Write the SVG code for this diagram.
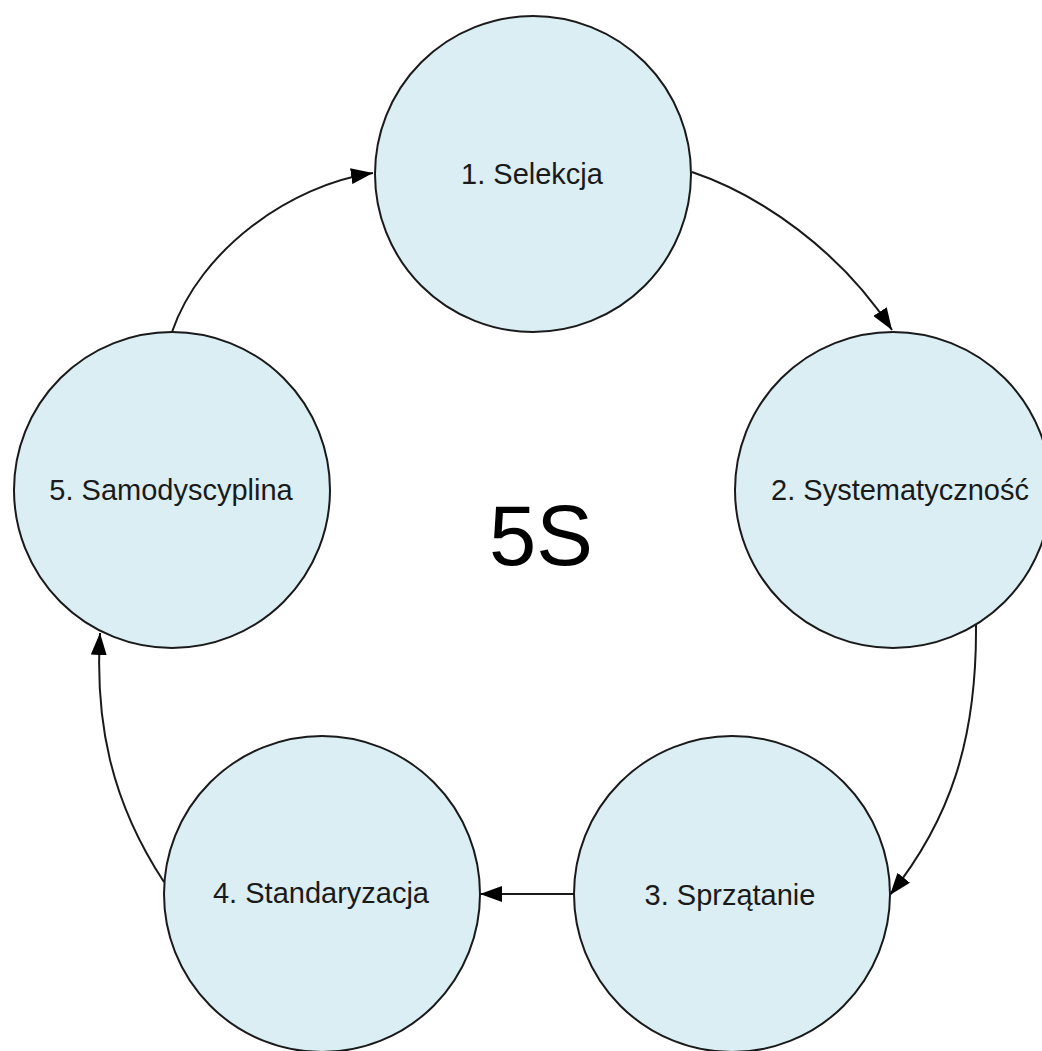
<svg xmlns="http://www.w3.org/2000/svg" width="1042" height="1051" viewBox="0 0 1042 1051">
  <defs>
    <marker id="arrow" markerUnits="userSpaceOnUse" markerWidth="22" markerHeight="16" refX="22" refY="8" orient="auto">
      <path d="M0,0 L22,8 L0,16 z" fill="#000"/>
    </marker>
    <style>
      .node circle { fill: #DAEEF3; stroke: #1a1a1a; stroke-width: 2; }
      .node text { font-family: "Liberation Sans", Arial, sans-serif; font-size: 29px; fill: #1a1a1a; text-anchor: middle; }
      .conn path { fill: none; stroke: #1a1a1a; stroke-width: 2; marker-end: url(#arrow); }
      .title { font-family: "Liberation Sans", Arial, sans-serif; font-size: 85px; fill: #000; text-anchor: middle; }
    </style>
  </defs>
  <rect width="1042" height="1051" fill="#fff"/>
  <g id="connectors" class="conn">
    <path d="M172,332 C200,250 290,185 373,173"/>
    <path d="M692,172 C760,195 840,250 892,330"/>
    <path d="M976,624 C977,740 950,820 890,895"/>
    <path d="M574,894 L480,894"/>
    <path d="M164,882 C110,800 95,720 100,633"/>
  </g>
  <g id="node1" class="node">
    <circle cx="533" cy="174" r="158"/>
    <text x="532" y="184">1. Selekcja</text>
  </g>
  <g id="node2" class="node">
    <circle cx="893" cy="490" r="158"/>
    <text x="900" y="500">2. Systematyczność</text>
  </g>
  <g id="node3" class="node">
    <circle cx="732" cy="894" r="158"/>
    <text x="730" y="905">3. Sprzątanie</text>
  </g>
  <g id="node4" class="node">
    <circle cx="322" cy="894" r="158"/>
    <text x="321" y="903">4. Standaryzacja</text>
  </g>
  <g id="node5" class="node">
    <circle cx="172" cy="490" r="158"/>
    <text x="171" y="500">5. Samodyscyplina</text>
  </g>
  <text id="title" class="title" x="541" y="565">5S</text>
</svg>
